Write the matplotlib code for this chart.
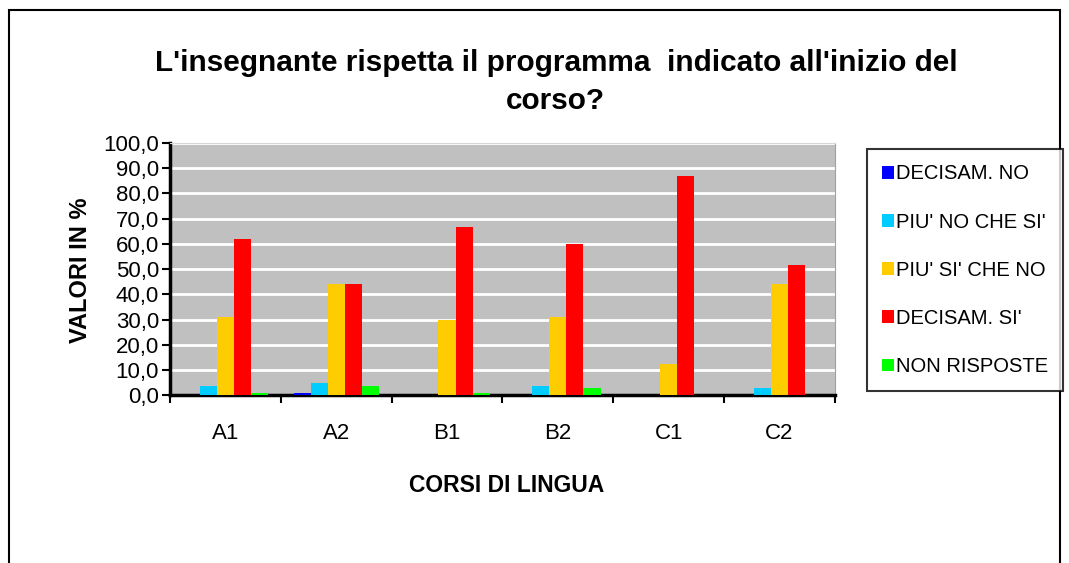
import matplotlib.pyplot as plt
from matplotlib.patches import Rectangle
import numpy as np

plt.rcParams['font.family'] = ['Liberation Sans', 'DejaVu Sans']

corsi = ['A1', 'A2', 'B1', 'B2', 'C1', 'C2']
serie = ["DECISAM. NO", "PIU' NO CHE SI'", "PIU' SI' CHE NO", "DECISAM. SI'", "NON RISPOSTE"]
colori = ['#0000ff', '#00ccff', '#ffcc00', '#ff0000', '#00ff00']

decisam_no = [0.0, 1.0, 0.0, 0.0, 0.0, 0.0]
piu_no = [3.8, 4.8, 0.0, 3.7, 0.0, 2.9]
piu_si = [31.0, 43.9, 29.9, 31.0, 12.2, 43.9]
decisam_si = [61.9, 43.9, 66.5, 59.9, 87.1, 51.6]
non_risposte = [1.0, 3.7, 0.9, 2.9, 0.0, 0.0]
valori = [decisam_no, piu_no, piu_si, decisam_si, non_risposte]

fig = plt.figure(figsize=(10.69, 5.63), dpi=100)
ax = fig.add_axes([0.159, 0.298, 0.622, 0.448])
ax.set_facecolor('#c0c0c0')

# barre raggruppate
x = np.arange(len(corsi))
w = 0.154
for i in range(len(serie)):
    ax.bar(x + (i - 2) * w, valori[i], width=w, color=colori[i], label=serie[i], zorder=3)

ax.set_xlim(-0.5, len(corsi) - 0.5)
ax.set_ylim(0, 100)
ax.set_yticks(np.arange(0, 101, 10))
ax.set_yticklabels(['{:.1f}'.format(v).replace('.', ',') for v in np.arange(0, 101, 10)], fontsize=16)
ax.set_xticks(x)
ax.set_xticklabels(corsi, fontsize=16)
ax.set_xticks(np.arange(-0.5, len(corsi)), minor=True)
ax.tick_params(axis='x', which='major', length=0, pad=20)
ax.tick_params(axis='x', which='minor', length=6, width=1.5, direction='out')
ax.tick_params(axis='y', length=6, width=1.5, direction='out', pad=2)
ax.grid(axis='y', color='white', linewidth=2, zorder=1)
ax.set_axisbelow(True)

for s in ['left', 'bottom']:
    ax.spines[s].set_linewidth(2.5)
ax.spines['top'].set_color('#d8d8d8')
ax.spines['right'].set_color('#a0a0a0')

fig.text(0.52, 0.855, "L'insegnante rispetta il programma  indicato all'inizio del\ncorso?",
         ha='center', va='center', fontsize=21.4, fontweight='bold', linespacing=1.45)
fig.text(0.075, 0.52, 'VALORI IN %', rotation=90, ha='center', va='center',
         fontsize=17, fontweight='bold')
fig.text(0.474, 0.138, 'CORSI DI LINGUA', ha='center', va='center', fontsize=16.5, fontweight='bold')

leg = fig.legend(loc='upper left', bbox_to_anchor=(0.811, 0.735), fontsize=14.5,
                 frameon=True, fancybox=False, edgecolor='black', handlelength=0.6,
                 handleheight=0.6, handletextpad=0.1, labelspacing=1.45, borderpad=0.75,
                 borderaxespad=0)
leg.get_frame().set_linewidth(1.5)

# cornice esterna
fig.patches.append(Rectangle((0.008, -0.1), 0.984, 1.082, transform=fig.transFigure,
                             fill=False, edgecolor='black', linewidth=1.5))

fig.savefig('out.png', dpi=100)
